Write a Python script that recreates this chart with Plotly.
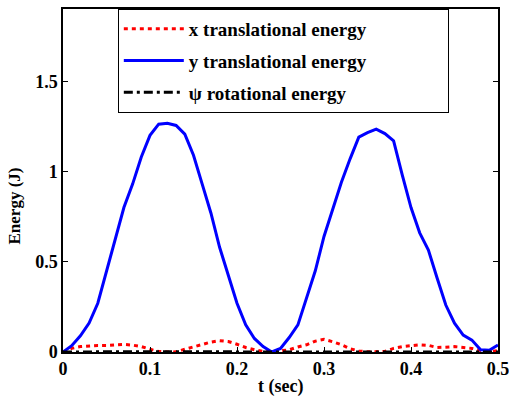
import plotly.graph_objects as go

t = [round(i * 0.01, 2) for i in range(51)]

y_trans = [0.0, 0.035, 0.09, 0.16, 0.27, 0.45, 0.62, 0.80, 0.93, 1.08,
           1.20, 1.262, 1.267, 1.255, 1.207, 1.09, 0.93, 0.77, 0.58, 0.42,
           0.27, 0.15, 0.075, 0.03, 0.0, 0.02, 0.08, 0.15, 0.30, 0.45,
           0.64, 0.79, 0.94, 1.07, 1.19, 1.215, 1.235, 1.21, 1.17, 0.98,
           0.80, 0.66, 0.565, 0.41, 0.26, 0.16, 0.094, 0.066, 0.012, 0.01,
           0.039]

x_trans = [0.0, 0.02, 0.03, 0.035, 0.036, 0.036, 0.04, 0.042, 0.038, 0.03,
           0.015, 0.003, 0.0, 0.001, 0.015, 0.028, 0.04, 0.055, 0.063, 0.058,
           0.043, 0.025, 0.012, 0.004, 0.002, 0.005, 0.012, 0.028, 0.04, 0.06,
           0.07, 0.057, 0.04, 0.018, 0.006, 0.001, 0.0, 0.003, 0.02, 0.03,
           0.035, 0.04, 0.037, 0.025, 0.027, 0.03, 0.025, 0.02, 0.008, 0.002,
           0.008]

psi_rot = [0.0, 0.001, 0.001, 0.001, 0.001, 0.001, 0.001, 0.001, 0.001, 0.001,
           0.001, 0.0, 0.0, 0.0, 0.001, 0.001, 0.001, 0.001, 0.001, 0.001,
           0.001, 0.001, 0.0, 0.0, 0.0, 0.0, 0.001, 0.001, 0.001, 0.001,
           0.001, 0.001, 0.001, 0.001, 0.0, 0.0, 0.0, 0.001, 0.001, 0.001,
           0.001, 0.001, 0.001, 0.001, 0.001, 0.001, 0.001, 0.001, 0.0, 0.0,
           0.0]

names = ["x translational energy", "y translational energy", "\u03c8 rotational energy"]
x_ticks = [0, 0.1, 0.2, 0.3, 0.4, 0.5]
x_tick_text = ["0", "0.1", "0.2", "0.3", "0.4", "0.5"]
y_ticks = [0, 0.5, 1, 1.5]
y_tick_text = ["0", "0.5", "1", "1.5"]

FONT = "Liberation Serif"
pad = "\u00a0" * 16

fig = go.Figure()
fig.add_trace(go.Scatter(x=t, y=x_trans, mode="lines", name="<b>" + names[0] + "</b>" + pad,
                         legendgroup="a",
                         line=dict(color="#ff0000", width=3, dash="4px,4px")))
fig.add_trace(go.Scatter(x=t, y=y_trans, mode="lines", name="<b>" + names[1] + "</b>" + pad,
                         legendgroup="b",
                         line=dict(color="#0000ff", width=3)))
fig.add_trace(go.Scatter(x=t, y=psi_rot, mode="lines", name="<b>" + names[2] + "</b>" + pad,
                         legendgroup="c",
                         line=dict(color="#000000", width=3, dash="9px,4px,3px,4px")))

axis_common = dict(showgrid=False, zeroline=False, showline=True, linecolor="black",
                   linewidth=1.5, mirror="ticks", ticks="inside", ticklen=5,
                   tickcolor="black", tickwidth=1, ticklabeloverflow="allow",
                   automargin=False,
                   tickfont=dict(family=FONT, size=18, color="black"))

fig.update_xaxes(range=[0, 0.5], tickvals=x_ticks,
                 ticktext=["<b>" + s + "</b>" for s in x_tick_text], **axis_common)
fig.update_yaxes(range=[0, 1.9], tickvals=y_ticks,
                 ticktext=["<b>" + s + "</b>" for s in y_tick_text], **axis_common)

fig.update_layout(
    width=509, height=396,
    margin=dict(l=63, r=11, t=9, b=44, autoexpand=False),
    paper_bgcolor="white", plot_bgcolor="white",
    font=dict(family=FONT, color="black"),
    showlegend=True,
    legend=dict(x=0.126, y=1, xanchor="left", yanchor="top",
                bgcolor="white", bordercolor="black", borderwidth=1,
                font=dict(family=FONT, size=19, color="black"),
                itemwidth=60, tracegroupgap=4),
    annotations=[
        dict(text="<b>t (sec)</b>", x=0.5, y=-0.064, xref="paper", yref="paper",
             xanchor="center", yanchor="top", showarrow=False,
             font=dict(family=FONT, size=18, color="black")),
        dict(text="<b>Energy (J)</b>", x=-0.112, y=0.425, xref="paper", yref="paper",
             xanchor="center", yanchor="middle", showarrow=False, textangle=-90,
             font=dict(family=FONT, size=17, color="black")),
    ],
)

fig.write_html("out.html", config={"displayModeBar": False},
               post_script="document.body.style.margin='0';document.body.style.overflow='hidden';")
